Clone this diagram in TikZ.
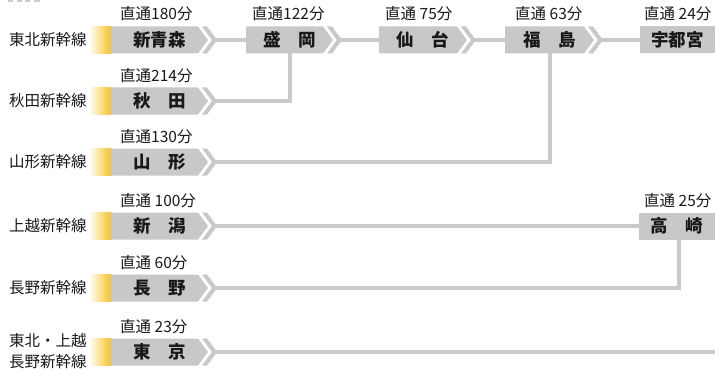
\documentclass[tikz,border=0pt]{standalone}
\usepackage{fontspec}
\newfontfamily\jp{Noto Sans CJK JP}
\definecolor{boxgray}{RGB}{200,200,200}
\definecolor{linegray}{RGB}{202,202,202}
\definecolor{gold}{RGB}{246,194,38}
\definecolor{ink}{RGB}{25,25,25}
\tikzset{
  sttext/.style={font=\jp\bfseries\fontsize{17.5}{18}\selectfont, text=ink, inner sep=0},
  lbl/.style={font=\jp\fontsize{15.5}{16}\selectfont, text=ink, inner sep=0, anchor=west},
  rowlbl/.style={font=\jp\fontsize{15.5}{21}\selectfont, text=ink, inner sep=0, anchor=west, align=left},
  conn/.style={draw=linegray, line width=4pt},
}
% station box with pointed end and chevron: name, x left, x where slant starts, y centre, text
\newcommand\stn[5]{%
  \fill[boxgray] (#2,#4-13.5) -- (#3,#4-13.5) -- (#3+10,#4) -- (#3,#4+13.5) -- (#2,#4+13.5) -- cycle;
  \fill[boxgray] (#3+4,#4-13.5) -- (#3+9,#4-13.5) -- (#3+19,#4) -- (#3+9,#4+13.5) -- (#3+4,#4+13.5) -- (#3+14,#4) -- cycle;
  \node[sttext] (#1) at ({(#2+#3+10)/2},#4) {#5};
  \coordinate (#1-in) at (#2,#4);
  \coordinate (#1-out) at (#3+16,#4);
  \coordinate (#1-bot) at ({(#2+#3+10)/2},#4+13.5);
}
% plain rectangular station box
\newcommand\rbox[5]{%
  \fill[boxgray] (#2,#4-13.5) rectangle (#3,#4+13.5);
  \node[sttext] (#1) at ({(#2+#3)/2},#4) {#5};
  \coordinate (#1-in) at (#2,#4);
  \coordinate (#1-bot) at ({(#2+#3)/2+2},#4+13.5);
}
\newcommand\yel[1]{\shade[left color=white, right color=gold] (89,#1-13.5) rectangle (111,#1+13.5);}
\begin{document}
\begin{tikzpicture}[x=1pt,y=-1pt]
\useasboundingbox (0,0) rectangle (715,369);
\fill[white] (0,0) rectangle (715,369);
% cut-off marks at the top edge
\fill[linegray] (8,0) rectangle (13,2);
\fill[linegray] (17,0) rectangle (22,2);
\fill[linegray] (25,0) rectangle (30,2);
\fill[linegray] (34,0) rectangle (40,2);

\coordinate (east-end) at (715,352);

% row 1
\yel{40}
\stn{shinaomori}{111}{198}{40}{新青森}
\stn{morioka}{246}{323}{40}{盛　岡}
\stn{sendai}{379}{457}{40}{仙　台}
\stn{fukushima}{505}{584}{40}{福　島}
\rbox{utsunomiya}{640}{715}{40}{宇都宮}
% row 2
\yel{101}
\stn{akita}{111}{198}{101}{秋　田}
% row 3
\yel{162}
\stn{yamagata}{111}{198}{162}{山　形}
% row 4
\yel{226}
\stn{niigata}{111}{198}{226}{新　潟}
\rbox{takasaki}{639}{715}{226}{高　崎}
% row 5
\yel{288}
\stn{nagano}{111}{198}{288}{長　野}
% row 6
\yel{352}
\stn{tokyo}{111}{198}{352}{東　京}

\draw[conn] (shinaomori-out) -- (morioka-in);
\draw[conn] (morioka-out) -- (sendai-in);
\draw[conn] (sendai-out) -- (fukushima-in);
\draw[conn] (fukushima-out) -- (utsunomiya-in);
\draw[conn] (akita-out) -| (morioka-bot);
\draw[conn] (yamagata-out) -| (fukushima-bot);
\draw[conn] (niigata-out) -- (takasaki-in);
\draw[conn] (nagano-out) -| (takasaki-bot);
\draw[conn] (tokyo-out) -- (east-end);

% time labels
\node[lbl] (t1) at (120,14) {直通180分};
\node[lbl] (t2) at (252,14) {直通122分};
\node[lbl] (t3) at (385,14) {直通 75分};
\node[lbl] (t4) at (515,14) {直通 63分};
\node[lbl] (t5) at (644,14) {直通 24分};
\node[lbl] (t6) at (120,76) {直通214分};
\node[lbl] (t7) at (120,137) {直通130分};
\node[lbl] (t8) at (120,201) {直通 100分};
\node[lbl] (t9) at (644,201) {直通 25分};
\node[lbl] (t10) at (120,263) {直通 60分};
\node[lbl] (t11) at (120,327) {直通 23分};

% line names
\node[rowlbl] (r1) at (9,40) {東北新幹線};
\node[rowlbl] (r2) at (9,101) {秋田新幹線};
\node[rowlbl] (r3) at (9,162) {山形新幹線};
\node[rowlbl] (r4) at (9,226) {上越新幹線};
\node[rowlbl] (r5) at (9,288) {長野新幹線};
\node[rowlbl] (r6) at (9,351) {東北・上越\\長野新幹線};
\end{tikzpicture}
\end{document}
